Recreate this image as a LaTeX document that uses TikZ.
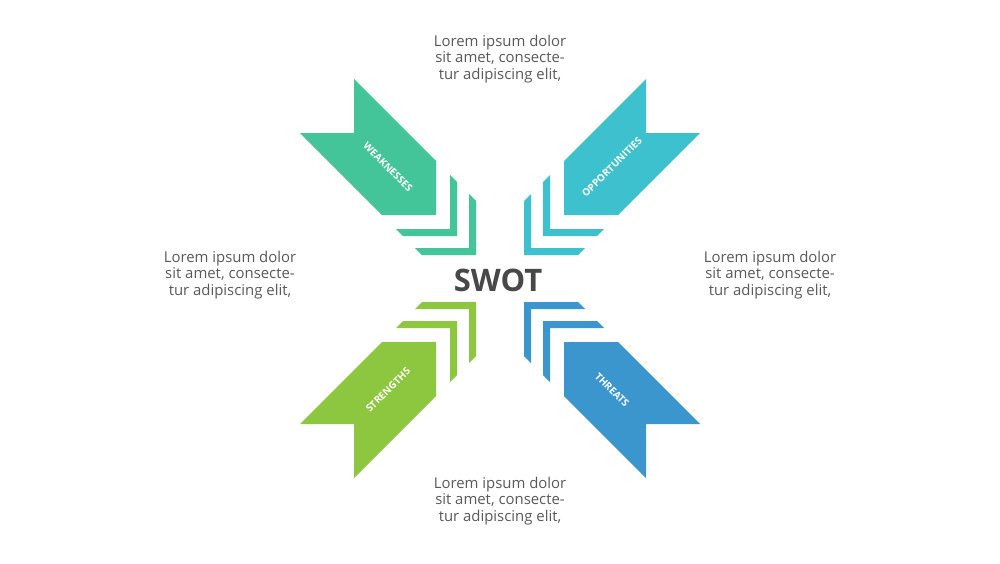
\documentclass[tikz,border=0pt]{standalone}
\usepackage{fontspec}
\setmainfont{Open Sans}

\definecolor{weakcol}{HTML}{43C499}
\definecolor{oppcol}{HTML}{3DC1CE}
\definecolor{strcol}{HTML}{8DC63F}
\definecolor{thrcol}{HTML}{3B96CE}
\definecolor{textgray}{HTML}{595959}
\definecolor{swotgray}{HTML}{484848}

\begin{document}
\begin{tikzpicture}[
  x=0.5pt, y=-0.5pt,
  lorem/.style={align=center, text=textgray, inner sep=0pt, font=\fontsize{7.45}{8.1}\selectfont},
  tag/.style={text=white, inner sep=0pt, font=\bfseries\fontsize{5}{6}\selectfont},
]
  \useasboundingbox (0,0) rectangle (1000,563);

  % one arrow per quadrant, head at (hx,hy), pointing to the middle
  \foreach \hx/\hy/\dx/\dy/\col/\name/\txt/\ang in {
      436/215/1/1/weakcol/weak/WEAKNESSES/-45,
      564/215/-1/1/oppcol/opp/OPPORTUNITIES/45,
      436/342/1/-1/strcol/str/STRENGTHS/45,
      564/342/-1/-1/thrcol/thr/THREATS/-45} {
    \begin{scope}[shift={(\hx,\hy)}, xscale=\dx, yscale=\dy]
      \fill[\col] (0,0) -- (0,-54) -- (-82,-136) -- (-82,-82) -- (-136,-82) -- (-54,0) -- cycle;
      \fill[\col] (21,-33) -- (21,21) -- (-33,21) -- (-40,14) -- (14,14) -- (14,-40) -- cycle;
      \fill[\col] (40,-14) -- (40,40) -- (-14,40) -- (-21,33) -- (33,33) -- (33,-21) -- cycle;
      \node[tag, rotate=\ang] (\name) at (-48,-48) {\txt};
    \end{scope}
  }

  \node[font=\bfseries\fontsize{15.5}{18}\selectfont, text=swotgray] (swot) at (498,280) {SWOT};

  \node[lorem] (toptext) at (500,59) {Lorem ipsum dolor\\sit amet, consecte-\\tur adipiscing elit,};
  \node[lorem] (lefttext) at (230,275) {Lorem ipsum dolor\\sit amet, consecte-\\tur adipiscing elit,};
  \node[lorem] (righttext) at (770,275) {Lorem ipsum dolor\\sit amet, consecte-\\tur adipiscing elit,};
  \node[lorem] (bottomtext) at (500,501) {Lorem ipsum dolor\\sit amet, consecte-\\tur adipiscing elit,};
\end{tikzpicture}
\end{document}
